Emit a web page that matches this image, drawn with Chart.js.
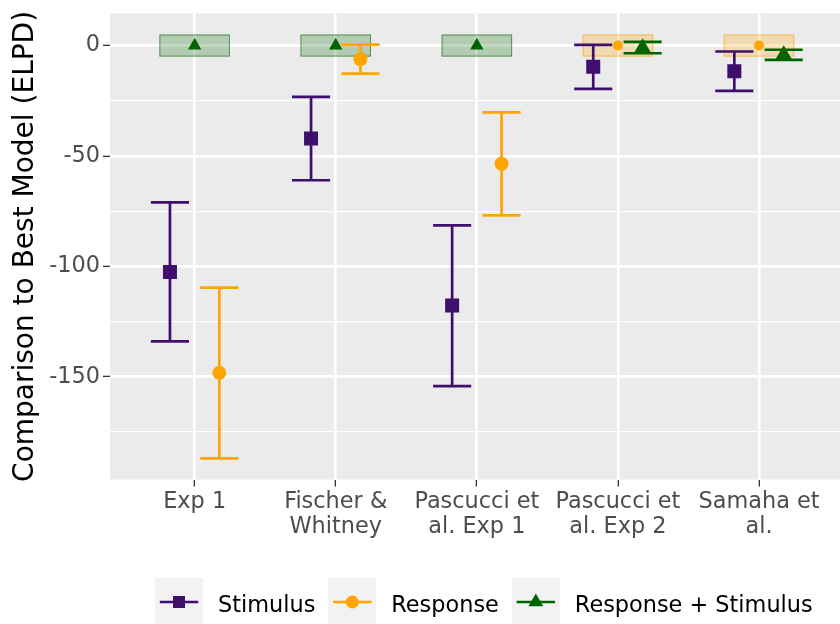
<!DOCTYPE html>
<html>
<head>
<meta charset="utf-8">
<script src="https://cdn.jsdelivr.net/npm/chart.js@4"></script>
<style>
  html, body { margin: 0; padding: 0; background: #ffffff; }
  #wrap { width: 840px; height: 624px; }
</style>
</head>
<body>
<div id="wrap"><canvas id="chart" width="840" height="624"></canvas></div>
<script>
// ELPD difference of each model relative to the best model, per dataset
const categories = [['Exp 1'], ['Fischer &', 'Whitney'], ['Pascucci et', 'al. Exp 1'], ['Pascucci et', 'al. Exp 2'], ['Samaha et', 'al.']];
const modelNames = ['Stimulus', 'Response', 'Response + Stimulus'];

const stimulusElpd  = [-102.5, -42.1, -117.7, -9.6, -11.6];
const stimulusLower = [-134.0, -61.0, -154.2, -19.6, -20.5];
const stimulusUpper = [-71.0, -23.2, -81.4, 0.3, -2.7];

const responseElpd  = [-148.2, -6.2, -53.5, 0, 0];
const responseLower = [-186.9, -12.7, -76.9, null, null];
const responseUpper = [-109.6, 0.4, -30.3, null, null];

const combinedElpd  = [0, 0, 0, -1.0, -4.2];
const combinedLower = [null, null, null, -3.5, -6.5];
const combinedUpper = [null, null, null, 1.7, -1.9];

// index into modelNames of the best model for each dataset
const bestModel = [2, 2, 2, 1, 1];
// half-height of the shaded band around the best model (ELPD units)
const bestBand = 5;

const yMajorTicks = [-150, -100, -50, 0];
const yMinorTicks = [-175, -125, -75, -25];
const yLimits = [-196.5, 14.6];

// ---- styling ----
const FONT = 'DejaVu Sans, Liberation Sans, sans-serif';
const modelColors = ['#3f0f6e', '#ffa500', '#006400'];
const bandFill = ['rgba(63,15,110,0.22)', 'rgba(255,165,0,0.24)', 'rgba(0,100,0,0.24)'];
const bandEdge = ['rgba(63,15,110,0.6)', 'rgba(255,165,0,0.6)', 'rgba(0,100,0,0.55)'];
const pointShapes = ['rect', 'circle', 'triangle'];
const radiusNormal = [9.9, 7, 9.6];
const radiusBest = [9.9, 5, 7.7];
const DODGE = 0.175;      // horizontal shift of the non-best models
const CAP = 0.135;        // half-width of the error bar caps
const BAND_HALF = 0.25;   // half-width of the best-model band
const LINE_W = 2.7;

const series = [
  { mean: stimulusElpd, lo: stimulusLower, hi: stimulusUpper },
  { mean: responseElpd, lo: responseLower, hi: responseUpper },
  { mean: combinedElpd, lo: combinedLower, hi: combinedUpper }
];

// stimulus model on the left, best model in the middle, the remaining model on the right
function slotOffset(model, cat) {
  if (model === bestModel[cat]) return 0;
  if (model === 0) return -DODGE;
  return DODGE;
}

const datasets = series.map((s, m) => ({
  label: modelNames[m],
  data: s.mean.map((v, i) => ({ x: i + 1 + slotOffset(m, i), y: v })),
  pointStyle: pointShapes[m],
  pointRadius: ctx => (bestModel[ctx.dataIndex] === m ? radiusBest[m] : radiusNormal[m]),
  pointHoverRadius: ctx => (bestModel[ctx.dataIndex] === m ? radiusBest[m] : radiusNormal[m]),
  backgroundColor: modelColors[m],
  borderColor: modelColors[m],
  borderWidth: 0,
  showLine: false
}));

const panelPlugin = {
  id: 'panel',
  beforeDraw(chart) {
    const { ctx, chartArea: a } = chart;
    ctx.save();
    ctx.fillStyle = '#ebebeb';
    ctx.fillRect(a.left, a.top, a.right - a.left, a.bottom - a.top);
    ctx.restore();
  },
  beforeDatasetsDraw(chart) {
    const { ctx, chartArea: a } = chart;
    const xs = chart.scales.x, ys = chart.scales.y;
    ctx.save();
    ctx.beginPath();
    ctx.rect(a.left, a.top, a.right - a.left, a.bottom - a.top);
    ctx.clip();
    // best-model bands
    bestModel.forEach((m, i) => {
      const x0 = xs.getPixelForValue(i + 1 - BAND_HALF);
      const x1 = xs.getPixelForValue(i + 1 + BAND_HALF);
      const y0 = ys.getPixelForValue(series[m].mean[i] + bestBand);
      const y1 = ys.getPixelForValue(series[m].mean[i] - bestBand);
      ctx.fillStyle = bandFill[m];
      ctx.fillRect(x0, y0, x1 - x0, y1 - y0);
      ctx.strokeStyle = bandEdge[m];
      ctx.lineWidth = 1;
      ctx.strokeRect(x0 + 0.5, y0 + 0.5, x1 - x0 - 1, y1 - y0 - 1);
    });
    // error bars
    ctx.lineWidth = LINE_W;
    ctx.lineCap = 'butt';
    series.forEach((s, m) => {
      ctx.strokeStyle = modelColors[m];
      s.mean.forEach((v, i) => {
        if (s.lo[i] === null || s.hi[i] === null) return;
        const xc = i + 1 + slotOffset(m, i);
        const px = xs.getPixelForValue(xc);
        const pl = xs.getPixelForValue(xc - CAP);
        const pr = xs.getPixelForValue(xc + CAP);
        const pLo = ys.getPixelForValue(s.lo[i]);
        const pHi = ys.getPixelForValue(s.hi[i]);
        ctx.beginPath();
        ctx.moveTo(px, pLo); ctx.lineTo(px, pHi);
        ctx.moveTo(pl, pLo); ctx.lineTo(pr, pLo);
        ctx.moveTo(pl, pHi); ctx.lineTo(pr, pHi);
        ctx.stroke();
      });
    });
    ctx.restore();
  },
  afterDraw(chart) {
    const { ctx, chartArea: a } = chart;
    ctx.save();
    // y axis title
    ctx.translate(33.4, (a.top + a.bottom) / 2);
    ctx.rotate(-Math.PI / 2);
    ctx.font = '28px ' + FONT;
    ctx.fillStyle = '#000000';
    ctx.textAlign = 'center';
    ctx.textBaseline = 'alphabetic';
    ctx.fillText('Comparison to Best Model (ELPD)', 0, 0);
    ctx.restore();

    // legend
    ctx.save();
    ctx.font = '22.4px ' + FONT;
    const keyW = 48, gapText = 15, gapItem = 13;
    const widths = modelNames.map(n => ctx.measureText(n).width);
    let x = 155;
    const keyTop = 578, cy = 602;
    modelNames.forEach((name, m) => {
      ctx.fillStyle = '#f2f2f2';
      ctx.fillRect(x, keyTop, keyW, keyW);
      ctx.strokeStyle = modelColors[m];
      ctx.lineWidth = LINE_W;
      ctx.beginPath();
      ctx.moveTo(x + keyW * 0.1, cy);
      ctx.lineTo(x + keyW * 0.9, cy);
      ctx.stroke();
      ctx.fillStyle = modelColors[m];
      const cx = x + keyW / 2;
      ctx.beginPath();
      if (m === 0) {
        ctx.rect(cx - 6, cy - 6, 12, 12);
      } else if (m === 1) {
        ctx.arc(cx, cy, 6.5, 0, Math.PI * 2);
      } else {
        const r = 8.5;
        ctx.moveTo(cx, cy - r);
        ctx.lineTo(cx + r * Math.sin(2 * Math.PI / 3), cy + r / 2);
        ctx.lineTo(cx - r * Math.sin(2 * Math.PI / 3), cy + r / 2);
        ctx.closePath();
      }
      ctx.fill();
      ctx.fillStyle = '#000000';
      ctx.textAlign = 'left';
      ctx.textBaseline = 'alphabetic';
      ctx.fillText(name, x + keyW + gapText, 611.5);
      x += keyW + gapText + widths[m] + gapItem;
    });
    ctx.restore();
  }
};

const isMajor = v => yMajorTicks.includes(v);
const noEdgePadding = s => { s.paddingLeft = 0; s.paddingRight = 0; s.paddingTop = 0; s.paddingBottom = 0; };

new Chart(document.getElementById('chart'), {
  type: 'scatter',
  data: { datasets },
  options: {
    responsive: false,
    animation: false,
    events: [],
    layout: { autoPadding: false, padding: { top: 13.3, right: 0, bottom: 0, left: 0 } },
    plugins: { legend: { display: false }, tooltip: { enabled: false } },
    scales: {
      x: {
        type: 'linear',
        min: 0.4,
        max: 5.574,
        afterBuildTicks: s => { s.ticks = categories.map((_, i) => ({ value: i + 1 })); },
        afterFit: s => { s.height = 144.5; noEdgePadding(s); },
        ticks: {
          callback: v => categories[Math.round(v) - 1],
          font: { family: FONT, size: 22.4, lineHeight: '25px' },
          color: '#4d4d4d',
          padding: 3,
          maxRotation: 0,
          autoSkip: false
        },
        grid: { color: '#ffffff', lineWidth: LINE_W, tickColor: '#333333', tickLength: 7, tickWidth: 1.3 },
        border: { display: false }
      },
      y: {
        type: 'linear',
        min: yLimits[0],
        max: yLimits[1],
        afterBuildTicks: s => {
          s.ticks = yMinorTicks.concat(yMajorTicks).sort((a, b) => a - b).map(v => ({ value: v }));
        },
        afterFit: s => { s.width = 110; noEdgePadding(s); },
        ticks: {
          callback: v => (isMajor(v) ? String(v) : ''),
          font: { family: FONT, size: 22.4 },
          color: '#4d4d4d',
          padding: 3
        },
        grid: {
          color: '#ffffff',
          lineWidth: ctx => (ctx.tick && isMajor(ctx.tick.value) ? LINE_W : 1.35),
          tickColor: ctx => (ctx.tick && isMajor(ctx.tick.value) ? '#333333' : 'rgba(0,0,0,0)'),
          tickLength: 7,
          tickWidth: 1.3
        },
        border: { display: false }
      }
    }
  },
  plugins: [panelPlugin]
});
</script>
</body>
</html>
